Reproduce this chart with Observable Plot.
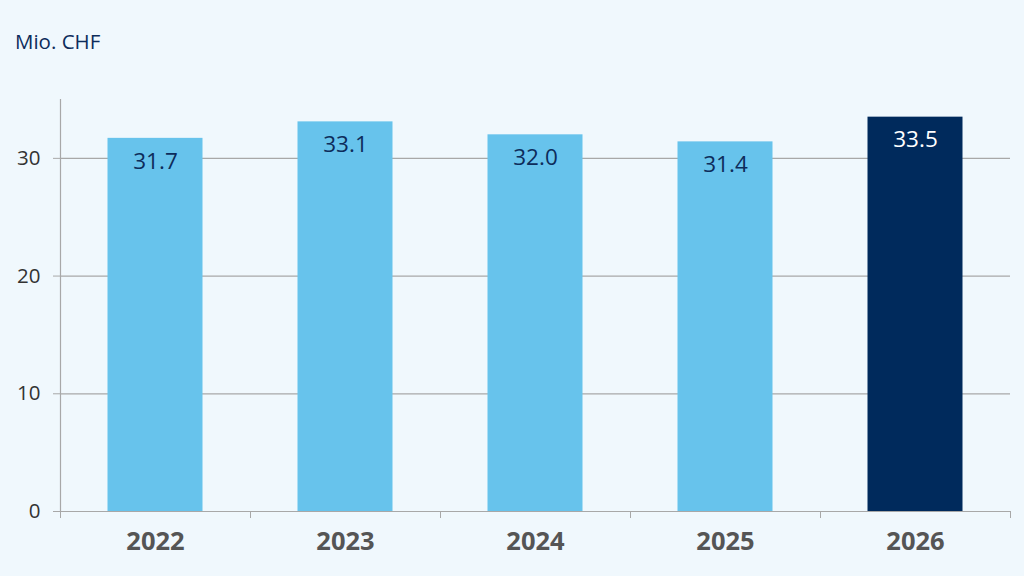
<!DOCTYPE html>
<html><head><meta charset="utf-8">
<script src="https://cdn.jsdelivr.net/npm/d3@7"></script>
<script src="https://cdn.jsdelivr.net/npm/@observablehq/plot@0.6"></script>
<style>
html,body{margin:0;padding:0;background:#f0f8fd;width:1024px;height:576px;overflow:hidden;font-family:"Open Sans",sans-serif;}
#title{position:relative;height:70px;}
#title span{position:absolute;left:15px;top:31px;font-size:20.5px;line-height:1;color:#0d2c5b;}
svg{display:block;}
</style></head>
<body>
<div id="title"><span>Mio. CHF</span></div>
<div id="chart"></div>
<script>
const years = ["2022", "2023", "2024", "2025", "2026"];
const values = [31.7, 33.1, 32.0, 31.4, 33.5];
const valueLabels = ["31.7", "33.1", "32.0", "31.4", "33.5"];
const yTicks = [0, 10, 20, 30];
const lightBlue = "#67c3ec";
const navy = "#002a5c";

const data = years.map((y, i) => ({year: y, i, value: values[i], label: valueLabels[i], highlight: i === years.length - 1}));
const boundaries = d3.range(years.length + 1);
const centers = years.map((y, i) => i + 0.5);

const plot = Plot.plot({
  width: 1024,
  height: 506,
  marginTop: 29,
  marginBottom: 65,
  marginLeft: 60,
  marginRight: 14,
  style: {background: "transparent", fontFamily: "Open Sans, sans-serif"},
  x: {domain: [0, years.length]},
  y: {domain: [0, 35]},
  marks: [
    Plot.ruleY(yTicks.filter(t => t > 0), {y: d => d, stroke: "#a8a8a8", strokeWidth: 1.2}),
    Plot.rectY(data, {x1: d => d.i + 0.25, x2: d => d.i + 0.75, y1: 0, y2: "value", fill: d => d.highlight ? navy : lightBlue}),
    Plot.text(data, {x: d => d.i + 0.5, y: "value", text: "label", dy: 23, fontSize: 22.5, fill: d => d.highlight ? "#ffffff" : "#0d2c5b"}),
    Plot.axisY({ticks: yTicks, tickSize: 7, tickPadding: 13, fontSize: 20.5, color: "#333333", stroke: "#a8a8a8", label: null, tickFormat: d => String(d)}),
    Plot.ruleX([0], {stroke: "#a8a8a8", strokeWidth: 1.2}),
    Plot.ruleY([0], {stroke: "#a8a8a8", strokeWidth: 1.2}),
    Plot.axisX({ticks: boundaries, tickSize: 7, tickFormat: () => "", stroke: "#a8a8a8", label: null}),
    Plot.axisX({ticks: centers, tickSize: 0, tickPadding: 20, tickFormat: d => years[Math.round(d - 0.5)], fontSize: 25.5, fontWeight: "bold", fill: "#555555", label: null})
  ]
});
document.getElementById("chart").appendChild(plot);
</script>
</body></html>
